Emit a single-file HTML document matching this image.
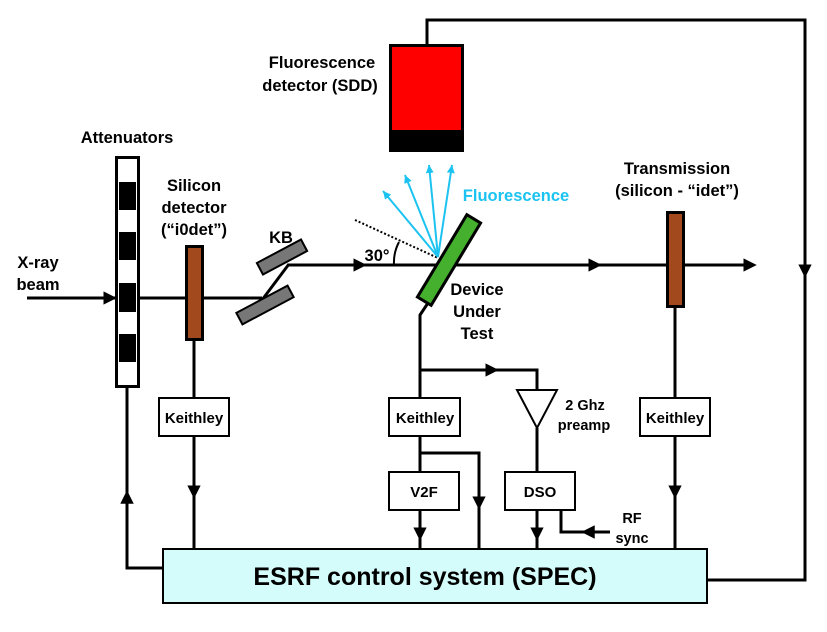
<!DOCTYPE html>
<html><head><meta charset="utf-8"><style>
html,body{margin:0;padding:0;background:#fff;}
svg{display:block;}
text{font-family:"Liberation Sans",Arial,sans-serif;font-weight:bold;fill:#000;}
</style></head><body>
<svg width="827" height="632" viewBox="0 0 827 632" xmlns="http://www.w3.org/2000/svg">
<defs>
<marker id="a" viewBox="0 0 10 10" refX="5" refY="5" markerWidth="4.5" markerHeight="4.5" orient="auto"><path d="M0,0 L10,5 L0,10 z" fill="#000"/></marker>
<marker id="c" viewBox="0 0 10 10" refX="10" refY="5" markerWidth="4" markerHeight="4" orient="auto"><path d="M0,0 L10,5 L0,10 z" fill="#1cc3f0"/></marker>
</defs>
<g stroke="#000" stroke-width="3" fill="none">
<line x1="27" y1="298" x2="262" y2="298"/>
<path d="M27,298 L110,298" marker-end="url(#a)"/>
<line x1="262" y1="300" x2="289" y2="264"/>
<line x1="288" y1="265" x2="752" y2="265"/>
<path d="M288,265 L360,265" marker-end="url(#a)"/>
<path d="M440,265 L595,265" marker-end="url(#a)"/>
<path d="M680,265 L750,265" marker-end="url(#a)"/>
<path d="M163,568 L127,568 L127,386"/>
<path d="M127,568 L127,497" marker-end="url(#a)"/>
<line x1="194" y1="340" x2="194" y2="398"/>
<line x1="194" y1="436" x2="194" y2="549"/>
<path d="M194,436 L194,492" marker-end="url(#a)"/>
<path d="M430,300 L420,315 L420,398"/>
<path d="M420,370 L537,370 L537,390"/>
<path d="M420,370 L492,370" marker-end="url(#a)"/>
<line x1="420" y1="436" x2="420" y2="472"/>
<path d="M420,453 L479,453 L479,549"/>
<path d="M479,453 L479,503" marker-end="url(#a)"/>
<line x1="420" y1="510" x2="420" y2="549"/>
<path d="M420,510 L420,534" marker-end="url(#a)"/>
<line x1="537" y1="428" x2="537" y2="472"/>
<line x1="537" y1="510" x2="537" y2="549"/>
<path d="M537,510 L537,534" marker-end="url(#a)"/>
<path d="M561,510 L561,532 L610,532"/>
<path d="M610,532 L588,532" marker-end="url(#a)"/>
<line x1="675" y1="306" x2="675" y2="398"/>
<line x1="675" y1="436" x2="675" y2="549"/>
<path d="M675,436 L675,492" marker-end="url(#a)"/>
<path d="M707,580 L805,580 L805,20 L427,20 L427,45"/>
<path d="M805,200 L805,271" marker-end="url(#a)"/>
</g>
<rect x="116.5" y="157.5" width="22" height="229" fill="#fff" stroke="#000" stroke-width="3"/>
<rect x="119" y="182" width="17" height="28" fill="#000"/>
<rect x="119" y="232" width="17" height="28" fill="#000"/>
<rect x="119" y="283" width="17" height="29" fill="#000"/>
<rect x="119" y="334" width="17" height="28" fill="#000"/>
<rect x="186.5" y="246.5" width="16" height="93" fill="#a24a1e" stroke="#000" stroke-width="3"/>
<rect x="667.5" y="212.5" width="16" height="94" fill="#a24a1e" stroke="#000" stroke-width="3"/>
<rect x="-25" y="-6.5" width="50" height="13" fill="#777" stroke="#000" stroke-width="2" transform="translate(282,257) rotate(-28)"/>
<rect x="-29" y="-6.5" width="58" height="13" fill="#777" stroke="#000" stroke-width="2" transform="translate(265,305) rotate(-28)"/>
<rect x="390.5" y="45.5" width="72" height="105" fill="#ff0000" stroke="#000" stroke-width="3"/>
<rect x="390" y="130" width="73" height="21" fill="#000"/>
<line x1="355" y1="220" x2="438" y2="258" stroke="#000" stroke-width="2" stroke-dasharray="2,2"/>
<path d="M394,265 A44,44 0 0 1 399,242" stroke="#000" stroke-width="2" fill="none"/>
<g stroke="#1cc3f0" stroke-width="2" fill="none">
<line x1="438" y1="257" x2="383" y2="191" marker-end="url(#c)"/>
<line x1="438" y1="257" x2="405" y2="175" marker-end="url(#c)"/>
<line x1="438" y1="257" x2="429" y2="165" marker-end="url(#c)"/>
<line x1="438" y1="257" x2="452" y2="165" marker-end="url(#c)"/>
</g>
<rect x="-8" y="-48" width="16" height="96" fill="#44b02e" stroke="#000" stroke-width="3" transform="translate(449,260) rotate(31)"/>
<g fill="#fff" stroke="#000" stroke-width="2">
<rect x="159" y="398" width="70" height="38"/>
<rect x="389" y="398" width="71" height="38"/>
<rect x="640" y="398" width="70" height="38"/>
<rect x="389" y="472" width="70" height="38"/>
<rect x="505" y="472" width="70" height="38"/>
<path d="M517,390 L557,390 L537,428 z"/>
</g>
<rect x="163" y="549" width="544" height="54" fill="#d3fcfa" stroke="#000" stroke-width="2"/>
<g font-size="16.5" text-anchor="middle">
<text x="127" y="143">Attenuators</text>
<text x="194" y="191">Silicon</text>
<text x="194" y="213">detector</text>
<text x="194" y="235">(“i0det”)</text>
<text x="281" y="243">KB</text>
<text x="38" y="268">X-ray</text>
<text x="38" y="290">beam</text>
<text x="322" y="68">Fluorescence</text>
<text x="320" y="91">detector (SDD)</text>
<text x="516" y="201" style="fill:#1cc3f0">Fluorescence</text>
<text x="377" y="261">30°</text>
<text x="477" y="295">Device</text>
<text x="477" y="317">Under</text>
<text x="477" y="339">Test</text>
<text x="677" y="174">Transmission</text>
<text x="677" y="196">(silicon - “idet”)</text>
<text x="585" y="410" font-size="14.5">2 Ghz</text>
<text x="584" y="430" font-size="14.5">preamp</text>
<text x="632" y="523" font-size="14.5">RF</text>
<text x="632" y="543" font-size="14.5">sync</text>
<text x="194" y="423" font-size="15">Keithley</text>
<text x="425" y="423" font-size="15">Keithley</text>
<text x="675" y="423" font-size="15">Keithley</text>
<text x="424" y="497" font-size="15">V2F</text>
<text x="540" y="497" font-size="15">DSO</text>
<text x="425" y="585" font-size="25">ESRF control system (SPEC)</text>
</g>
</svg>
</body></html>
